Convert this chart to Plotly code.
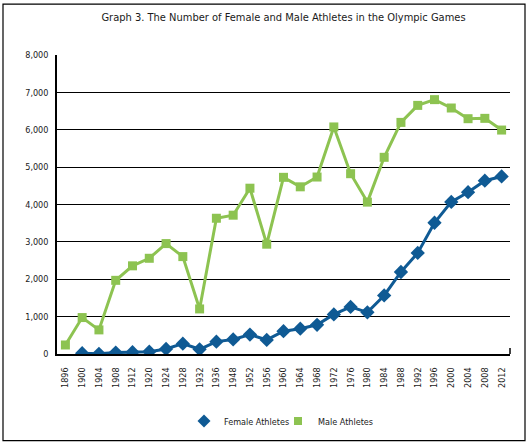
import plotly.graph_objects as go

years = ["1896", "1900", "1904", "1908", "1912", "1920", "1924", "1928", "1932", "1936",
         "1948", "1952", "1956", "1960", "1964", "1968", "1972", "1976", "1980", "1984",
         "1988", "1992", "1996", "2000", "2004", "2008", "2012"]
female = [None, 22, 6, 37, 48, 63, 135, 277, 126, 331,
          390, 519, 376, 611, 678, 781, 1059, 1260, 1115, 1566,
          2194, 2704, 3512, 4069, 4329, 4637, 4750]
male = [241, 975, 645, 1971, 2359, 2561, 2954, 2606, 1206, 3632,
        3714, 4436, 2938, 4727, 4473, 4735, 6075, 4824, 4064, 5263,
        6197, 6652, 6806, 6582, 6296, 6305, 5992]
y_ticks = [0, 1000, 2000, 3000, 4000, 5000, 6000, 7000, 8000]

GREEN = "#8DC351"
BLUE = "#0F5A94"
FONT = "Liberation Sans Narrow, DejaVu Sans Condensed, Arial Narrow, sans-serif"
TXT = "#1a1a1a"

fig = go.Figure()
fig.add_trace(go.Scatter(x=years, y=male, mode="lines+markers", name="Male Athletes",
                         line=dict(color=GREEN, width=3),
                         marker=dict(symbol="square", size=9, color=GREEN),
                         showlegend=False, connectgaps=False))
fig.add_trace(go.Scatter(x=years, y=female, mode="lines+markers", name="Female Athletes",
                         line=dict(color=BLUE, width=3),
                         marker=dict(symbol="diamond", size=11, color=BLUE),
                         showlegend=False, connectgaps=False))
# legend-only entries (markers only, as in the reference)
fig.add_trace(go.Scatter(x=[None], y=[None], mode="markers", name="Female Athletes",
                         marker=dict(symbol="diamond", size=10, color=BLUE), legend="legend"))
fig.add_trace(go.Scatter(x=[None], y=[None], mode="markers", name="Male Athletes",
                         marker=dict(symbol="square", size=8, color=GREEN), legend="legend2"))

L, R, T, B = 57, 20, 55, 91
W, H = 530, 446
pw, ph = W - L - R, H - T - B
leg_common = dict(orientation="h", xanchor="left", y=(T + ph - 421) / ph, yanchor="middle",
                  font=dict(family=FONT, size=9, color=TXT), itemwidth=30,
                  bgcolor="rgba(0,0,0,0)")

fig.update_layout(
    width=W, height=H,
    margin=dict(l=L, r=R, t=T, b=B),
    paper_bgcolor="white", plot_bgcolor="white",
    font=dict(family=FONT, size=9, color=TXT),
    title=dict(text="Graph 3. The Number of Female and Male Athletes in the Olympic Games",
               x=0.5, xanchor="center", xref="paper", y=1 - 13 / H, yanchor="top",
               yref="container",
               font=dict(family=FONT, size=11, color=TXT)),
    legend=dict(x=(184 - L) / pw, **leg_common),
    legend2=dict(x=(278 - L) / pw, **leg_common),
    xaxis=dict(type="category", categoryorder="array", categoryarray=years,
               tickangle=-90, showgrid=False, showline=True, linecolor="black",
               linewidth=1.5, ticks="", ticklabelstandoff=8,
               tickfont=dict(family=FONT, size=9, color=TXT),
               range=[-0.5, len(years) - 0.5], zeroline=False),
    yaxis=dict(range=[0, 8000], tickvals=y_ticks, tickformat=",",
               showgrid=True, gridcolor="#000000", gridwidth=1.2,
               showline=True, linecolor="black", linewidth=1.5, ticks="",
               ticklabelstandoff=5, zeroline=False,
               tickfont=dict(family=FONT, size=9, color=TXT)),
    showlegend=True,
)

# outer frame around the whole chart
fig.add_shape(type="rect", xref="paper", yref="paper",
              x0=(3 - L) / pw, x1=(525 - L) / pw,
              y0=(T + ph - 442) / ph, y1=(T + ph - 4) / ph,
              line=dict(color="black", width=1.2), fillcolor="rgba(0,0,0,0)", layer="above")
# small end tick at the right of the x axis
fig.add_shape(type="line", xref="paper", yref="paper", x0=1, x1=1, y0=0, y1=6 / ph,
              line=dict(color="black", width=1.5))

fig.write_html("out.html", config={"displayModeBar": False},
               post_script="document.body.style.margin='0';document.body.style.overflow='hidden';")
